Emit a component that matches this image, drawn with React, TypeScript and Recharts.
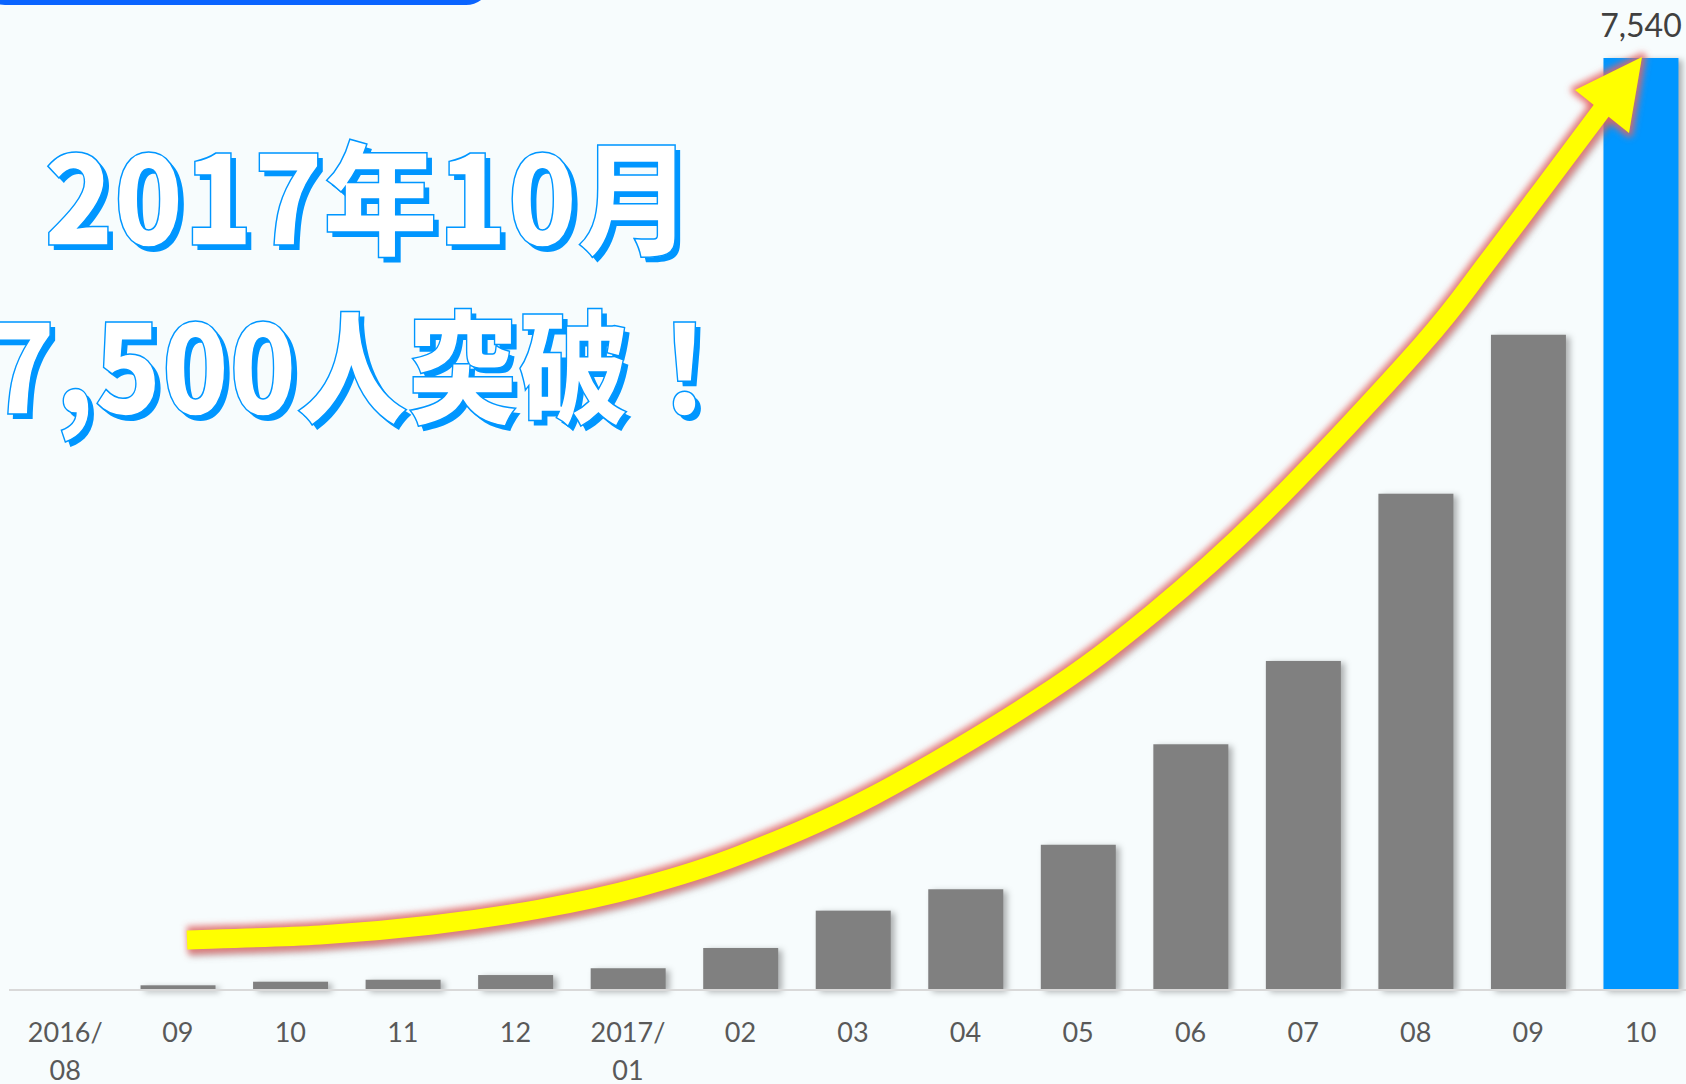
import React from "react";
import { BarChart, Bar, XAxis, YAxis, Cell, LabelList } from "recharts";

const months = [
  "2016/08", "2016/09", "2016/10", "2016/11", "2016/12",
  "2017/01", "2017/02", "2017/03", "2017/04", "2017/05",
  "2017/06", "2017/07", "2017/08", "2017/09", "2017/10",
];
const members = [0, 38, 67, 83, 121, 176, 340, 642, 815, 1175, 1988, 2662, 4015, 5301, 7540];
const tickLine1 = ["2016/", "09", "10", "11", "12", "2017/", "02", "03", "04", "05", "06", "07", "08", "09", "10"];
const tickLine2 = ["08", "", "", "", "", "01", "", "", "", "", "", "", "", "", ""];
const titleLine1 = "2017年10月";
const titleLine2 = "7,500人突破！";

const data = months.map((m, i) => ({ month: m, members: members[i] }));
const lastIndex = members.length - 1;

const GRAY = "#808080";
const BLUE = "#0096ff";
const BG = "#f7fcfd";

// decorative arrow path (annotation, not data)
const arrowPts: [number, number][] = [
  [187, 940], [320, 935], [432, 925], [540, 909], [640, 887], [740, 855],
  [873, 796], [1040, 697], [1153, 613], [1268, 509], [1421, 346],
  [1492, 256], [1604, 107],
];
function smoothPath(pts: [number, number][]) {
  let d = `M${pts[0][0]},${pts[0][1]}`;
  for (let i = 0; i < pts.length - 1; i++) {
    const p0 = pts[i - 1] || pts[i];
    const p1 = pts[i];
    const p2 = pts[i + 1];
    const p3 = pts[i + 2] || p2;
    const c1x = p1[0] + (p2[0] - p0[0]) / 6;
    const c1y = p1[1] + (p2[1] - p0[1]) / 6;
    const c2x = p2[0] - (p3[0] - p1[0]) / 6;
    const c2y = p2[1] - (p3[1] - p1[1]) / 6;
    d += ` C${c1x.toFixed(1)},${c1y.toFixed(1)} ${c2x.toFixed(1)},${c2y.toFixed(1)} ${p2[0]},${p2[1]}`;
  }
  return d;
}
const arrowD = smoothPath(arrowPts);
const headPts = "1642,57 1575,90 1629,133";

const Tick = (props: any) => {
  const { x, y, index } = props;
  const common = {
    textAnchor: "middle" as const,
    fontFamily: "Lato, 'Noto Sans', sans-serif",
    fontSize: 27,
    fill: "#595959",
  };
  return (
    <g>
      <text x={x} y={y + 52} {...common}>{tickLine1[index]}</text>
      {tickLine2[index] ? (
        <text x={x} y={y + 90} {...common}>{tickLine2[index]}</text>
      ) : null}
    </g>
  );
};

const BarShape = (props: any) => {
  const { x, y, width, height, fill } = props;
  if (!height || height <= 0) return null;
  return (
    <rect
      x={x}
      y={y}
      width={width}
      height={height}
      fill={fill}
      style={{ filter: "drop-shadow(4px 2px 3px rgba(0,0,0,0.30))" }}
    />
  );
};

const TopLabel = (props: any) => {
  const { x, y, width, value, index } = props;
  if (index !== lastIndex) return null;
  return (
    <text
      x={x + width / 2}
      y={y - 21}
      textAnchor="middle"
      fontFamily="Lato, 'Noto Sans', sans-serif"
      fontSize={32}
      fill="#404040"
    >
      {Number(value).toLocaleString("en-US")}
    </text>
  );
};

const titleFont = "'Noto Sans CJK JP', 'Noto Sans CJK SC', sans-serif";

function TitleLine({ text, x, y, len, size }: { text: string; x: number; y: number; len: number; size: number }) {
  return (
    <g fontFamily={titleFont} fontWeight={900} fontSize={size}>
      <text x={x + 5} y={y + 5} fill={BLUE} textLength={len} lengthAdjust="spacingAndGlyphs">
        {text}
      </text>
      <text
        x={x}
        y={y}
        fill="#ffffff"
        stroke={BLUE}
        strokeWidth={1.5}
        textLength={len}
        lengthAdjust="spacingAndGlyphs"
      >
        {text}
      </text>
    </g>
  );
}

export default function App() {
  return (
    <div
      style={{
        position: "absolute",
        left: 0,
        top: 0,
        width: 1686,
        height: 1084,
        overflow: "hidden",
        background: BG,
      }}
    >
      <div
        style={{
          position: "absolute",
          left: -20,
          top: -45,
          width: 511,
          height: 50,
          boxSizing: "border-box",
          border: "5px solid #0a64ff",
          borderRadius: 26,
        }}
      />
      <div style={{ position: "absolute", left: 0, top: 0 }}>
        <BarChart
          width={1700}
          height={1084}
          data={data}
          margin={{ top: 58, right: 3, bottom: 0, left: 9 }}
          barSize={75}
        >
          <XAxis
            dataKey="month"
            interval={0}
            tickLine={false}
            tickSize={0}
            tickMargin={0}
            height={94}
            axisLine={{ stroke: "#d9d9d9", strokeWidth: 2 }}
            tick={<Tick />}
          />
          <YAxis hide domain={[0, "dataMax"]} />
          <Bar dataKey="members" isAnimationActive={false} shape={<BarShape />}>
            {data.map((d, i) => (
              <Cell key={d.month} fill={i === lastIndex ? BLUE : GRAY} />
            ))}
            <LabelList dataKey="members" content={<TopLabel />} />
          </Bar>
        </BarChart>
      </div>
      <svg
        width={1686}
        height={1084}
        style={{ position: "absolute", left: 0, top: 0, pointerEvents: "none" }}
      >
        <defs>
          <filter id="glow" x="-10%" y="-10%" width="120%" height="120%">
            <feGaussianBlur stdDeviation="3" />
          </filter>
        </defs>
        <TitleLine text={titleLine1} x={44} y={245} len={648} size={123} />
        <TitleLine text={titleLine2} x={-12} y={414} len={752} size={123} />
        {/* arrow glow */}
        <g filter="url(#glow)">
          <path d={arrowD} fill="none" stroke="rgba(120,110,110,0.45)" strokeWidth={28}
            transform="translate(2,3)" />
          <path d={arrowD} fill="none" stroke="rgba(230,100,100,0.75)" strokeWidth={28} />
          <polygon points={headPts} fill="rgba(230,100,100,0.75)" stroke="rgba(230,100,100,0.75)"
            strokeWidth={9} strokeLinejoin="round" />
        </g>
        <path d={arrowD} fill="none" stroke="#ffff00" strokeWidth={19} />
        <polygon points={headPts} fill="#ffff00" />
      </svg>
    </div>
  );
}
